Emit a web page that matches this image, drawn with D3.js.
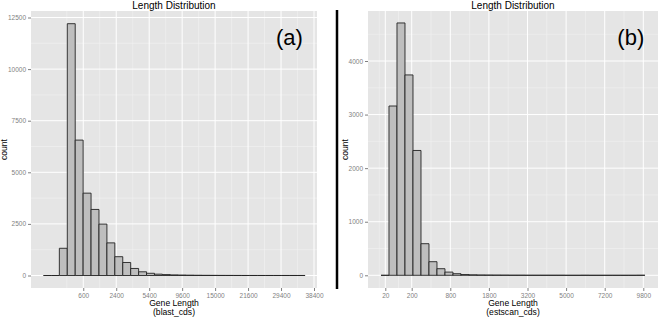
<!DOCTYPE html>
<html>
<head>
<meta charset="utf-8">
<script src="https://cdn.jsdelivr.net/npm/d3@7"></script>
<style>
    body { margin: 0; background: #fff; }
    svg { display: block; font-family: "Liberation Sans", Arial, sans-serif; }
</style>
</head>
<body>
<div id="chart"></div>
<script>
// 直方圖資料：bin 以 sqrt(長度) 為單位
const binStartA = -5.05;
const binWidthA = 5.89;
const countsA = [0, 0, 1318, 12200, 6560, 3990, 3200, 2490, 1580, 911, 630, 340, 180, 107,
    65, 45, 30, 22, 16, 12, 9, 7, 5, 4, 3, 2, 2, 1, 1, 1, 1, 1, 1];

const binStartB = 2.894;
const binWidthB = 2.93;
const countsB = [0, 3160, 4710, 3740, 2330, 590, 254, 123, 60, 30, 14, 9, 6, 5, 4, 3, 2, 2,
    1, 1, 1, 1, 1, 0, 0, 1, 0, 0, 0, 0, 0, 0, 1];

// 刻度
const xTicksA = [600, 2400, 5400, 9600, 15000, 21600, 29400, 38400];
const yTicksA = [0, 2500, 5000, 7500, 10000, 12500];
const xTicksB = [20, 200, 800, 1800, 3200, 5000, 7200, 9800];
const yTicksB = [0, 1000, 2000, 3000, 4000];

const titleText = "Length Distribution";
const xTitle = "Gene Length";
const yTitle = "count";

const svg = d3.select("#chart").append("svg")
    .attr("width", 660)
    .attr("height", 318);

// 繪製單一面板
function drawPanel(p) {
    const g = svg.append("g");

    const x = d3.scaleSqrt().domain([0, p.xMax]).range(p.xRange);
    const y = d3.scaleLinear().domain([0, p.yMax]).range(p.yRange);
    const sq = u => Math.sign(u) * u * u; // sqrt 單位轉回長度

    // 背景
    g.append("rect")
        .attr("x", p.left).attr("y", p.top)
        .attr("width", p.right - p.left).attr("height", p.bottom - p.top)
        .attr("fill", "#E5E5E5");

    // 次要格線
    const u = p.xTicks.map(Math.sqrt);
    const xMinor = [u[0] / 2].concat(u.slice(1).map((v, i) => (v + u[i]) / 2)).map(sq);
    const yStep = p.yTicks[1] - p.yTicks[0];
    const yMinor = p.yTicks.map(v => v + yStep / 2).filter(v => y(v) > p.top);

    g.selectAll(".xminor").data(xMinor).enter().append("line")
        .attr("x1", d => x(d)).attr("x2", d => x(d))
        .attr("y1", p.top).attr("y2", p.bottom)
        .attr("stroke", "#F2F2F2").attr("stroke-width", 0.6);
    g.selectAll(".yminor").data(yMinor).enter().append("line")
        .attr("y1", d => y(d)).attr("y2", d => y(d))
        .attr("x1", p.left).attr("x2", p.right)
        .attr("stroke", "#F2F2F2").attr("stroke-width", 0.6);

    // 主要格線
    g.selectAll(".xmajor").data(p.xTicks).enter().append("line")
        .attr("x1", d => x(d)).attr("x2", d => x(d))
        .attr("y1", p.top).attr("y2", p.bottom)
        .attr("stroke", "#fff").attr("stroke-width", 1);
    g.selectAll(".ymajor").data(p.yTicks).enter().append("line")
        .attr("y1", d => y(d)).attr("y2", d => y(d))
        .attr("x1", p.left).attr("x2", p.right)
        .attr("stroke", "#fff").attr("stroke-width", 1);

    // 長條（用 path，零高度時仍畫出底線）
    g.selectAll(".bar").data(p.counts).enter().append("path")
        .attr("d", (d, i) => {
            const x0 = x(sq(p.binStart + i * p.binWidth));
            const x1 = x(sq(p.binStart + (i + 1) * p.binWidth));
            return `M${x0},${y(0)}V${y(d)}H${x1}V${y(0)}Z`;
        })
        .attr("fill", "#BEBEBE")
        .attr("stroke", "#222")
        .attr("stroke-width", 0.9);

    // X 軸
    g.append("g")
        .attr("transform", `translate(0,${p.bottom})`)
        .call(d3.axisBottom(x).tickValues(p.xTicks).tickFormat(d3.format("d")).tickSize(3).tickPadding(2))
        .call(a => a.select(".domain").remove())
        .call(a => a.selectAll("line").attr("stroke", "#7F7F7F"))
        .call(a => a.selectAll("text").attr("fill", "#7F7F7F").attr("font-size", 6.5)
            .attr("font-family", "Liberation Sans, Arial, sans-serif"));

    // Y 軸
    g.append("g")
        .attr("transform", `translate(${p.left},0)`)
        .call(d3.axisLeft(y).tickValues(p.yTicks).tickFormat(d3.format("d")).tickSize(3).tickPadding(2))
        .call(a => a.select(".domain").remove())
        .call(a => a.selectAll("line").attr("stroke", "#7F7F7F"))
        .call(a => a.selectAll("text").attr("fill", "#7F7F7F").attr("font-size", 6.5)
            .attr("font-family", "Liberation Sans, Arial, sans-serif"));

    const cx = (p.left + p.right) / 2;

    // 標題
    g.append("text")
        .attr("x", cx).attr("y", 8.5)
        .attr("text-anchor", "middle")
        .attr("font-size", 10)
        .text(titleText);

    // 軸標籤
    g.append("text")
        .attr("x", cx).attr("y", 306)
        .attr("text-anchor", "middle")
        .attr("font-size", 8.6)
        .text(xTitle);
    g.append("text")
        .attr("x", cx).attr("y", 315)
        .attr("text-anchor", "middle")
        .attr("font-size", 8.6)
        .text(p.sub);
    g.append("text")
        .attr("transform", `translate(${p.yTitleX},${(p.top + p.bottom) / 2}) rotate(-90)`)
        .attr("text-anchor", "middle")
        .attr("font-size", 8.6)
        .text(yTitle);

    // 面板代號
    g.append("text")
        .attr("x", p.tagX).attr("y", 44.5)
        .attr("text-anchor", "middle")
        .attr("font-size", 22)
        .text(p.tag);
}

drawPanel({
    counts: countsA, binStart: binStartA, binWidth: binWidthA,
    xTicks: xTicksA, yTicks: yTicksA, xMax: 38400, yMax: 12500,
    left: 31, right: 317, top: 11, bottom: 288,
    xRange: [50.3, 314], yRange: [275.5, 17.5],
    sub: "(blast_cds)", tag: "(a)", tagX: 289.5, yTitleX: 6.5
});

drawPanel({
    counts: countsB, binStart: binStartB, binWidth: binWidthB,
    xTicks: xTicksB, yTicks: yTicksB, xMax: 9800, yMax: 4000,
    left: 368, right: 658, top: 11, bottom: 288,
    xRange: [373.1, 643.3], yRange: [275.3, 61],
    sub: "(estscan_cds)", tag: "(b)", tagX: 630.8, yTitleX: 348
});

// 面板之間的黑色分隔線
svg.append("line")
    .attr("x1", 337).attr("x2", 337)
    .attr("y1", 10).attr("y2", 289)
    .attr("stroke", "#000").attr("stroke-width", 2.5);
</script>
</body>
</html>
